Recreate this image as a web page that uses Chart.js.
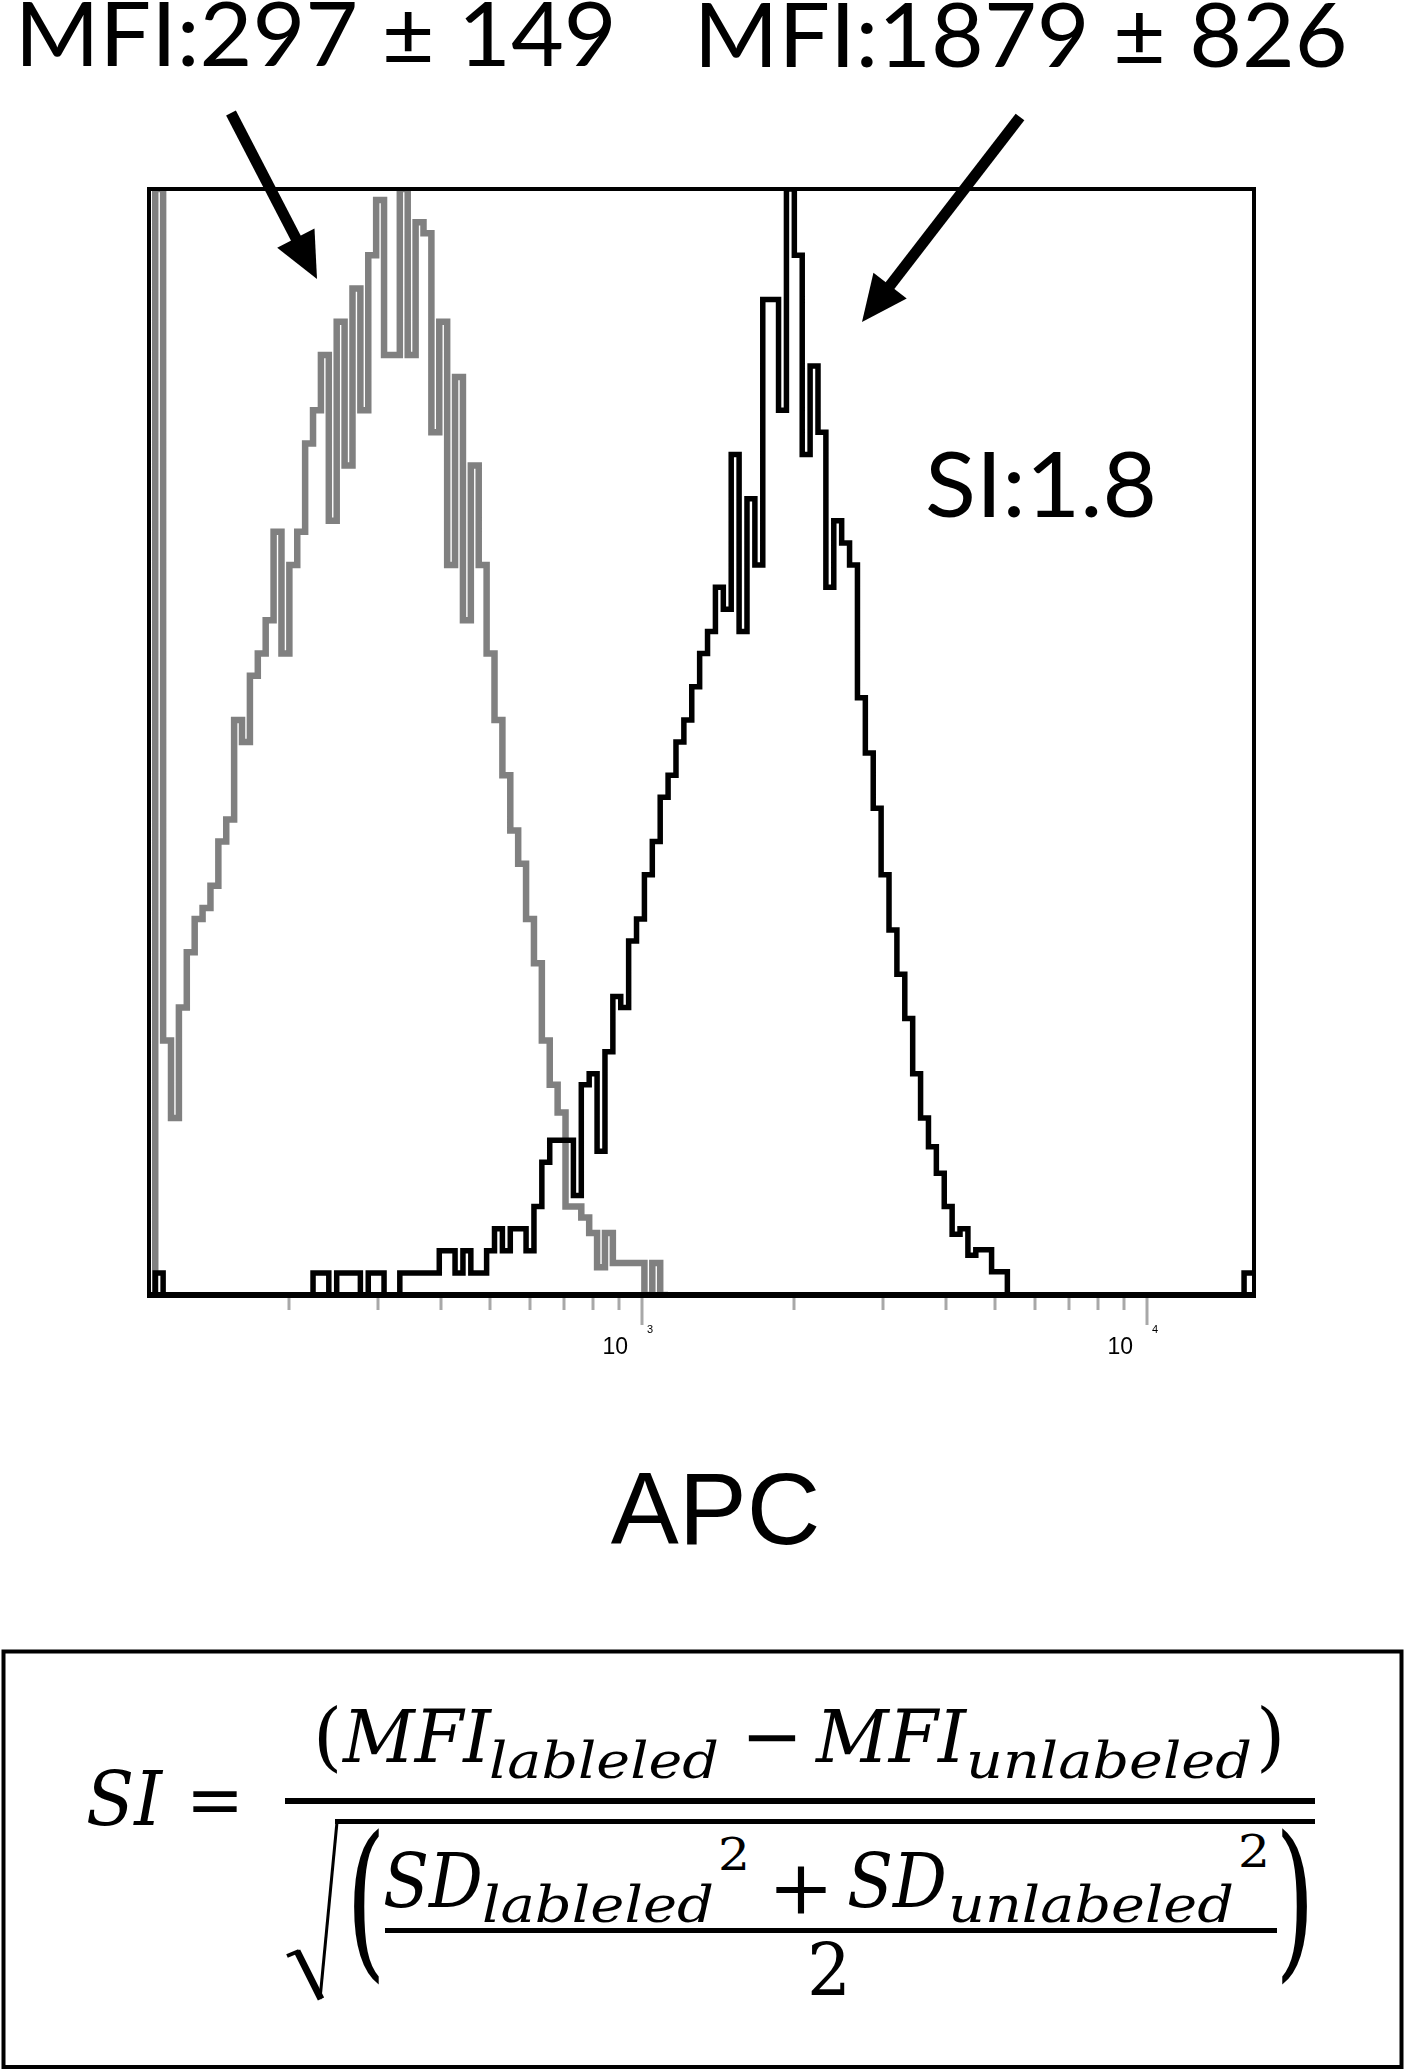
<!DOCTYPE html>
<html>
<head>
<meta charset="utf-8">
<script src="https://cdn.jsdelivr.net/npm/chart.js@4.4.1/dist/chart.umd.min.js"></script>
<style>
html,body{margin:0;padding:0;background:#fff;}
body{width:1405px;height:2070px;position:relative;overflow:hidden;}
#chartWrap{position:absolute;left:0;top:0;width:1405px;height:1645px;}
#formula{position:absolute;left:0;top:1645px;}
</style>
</head>
<body>
<div id="chartWrap"><canvas id="c" width="1405" height="1645"></canvas></div>
<svg id="formula" width="1405" height="425" viewBox="0 1645 1405 425" xmlns="http://www.w3.org/2000/svg">
  <rect x="3.5" y="1651.5" width="1398" height="415.5" fill="none" stroke="#000" stroke-width="4"/>
  <g font-family="'DejaVu Serif','Liberation Serif',serif" fill="#000">
    <text x="86" y="1825" font-size="75" font-style="italic" textLength="76" lengthAdjust="spacingAndGlyphs">SI</text>
    <text x="186" y="1825" font-size="75" textLength="58" lengthAdjust="spacingAndGlyphs">=</text>
    <text x="313" y="1762" font-size="75">(</text>
    <text x="343" y="1762" font-size="72" font-style="italic" textLength="148" lengthAdjust="spacingAndGlyphs">MFI</text>
    <text x="489" y="1778" font-size="50" font-style="italic" textLength="230" lengthAdjust="spacingAndGlyphs">lableled</text>
    <text x="741" y="1762" font-size="75" textLength="62" lengthAdjust="spacingAndGlyphs">−</text>
    <text x="816" y="1762" font-size="72" font-style="italic" textLength="150" lengthAdjust="spacingAndGlyphs">MFI</text>
    <text x="966" y="1778" font-size="50" font-style="italic" textLength="286" lengthAdjust="spacingAndGlyphs">unlabeled</text>
    <text x="1256" y="1762" font-size="75">)</text>
    <text x="346" y="1958" font-size="170" textLength="40" lengthAdjust="spacingAndGlyphs">(</text>
    <text x="383" y="1907" font-size="74" font-style="italic" textLength="100" lengthAdjust="spacingAndGlyphs">SD</text>
    <text x="482" y="1922" font-size="50" font-style="italic" textLength="232" lengthAdjust="spacingAndGlyphs">lableled</text>
    <text x="718" y="1870" font-size="45" textLength="32" lengthAdjust="spacingAndGlyphs">2</text>
    <text x="768" y="1914" font-size="75" textLength="66" lengthAdjust="spacingAndGlyphs">+</text>
    <text x="847" y="1907" font-size="74" font-style="italic" textLength="100" lengthAdjust="spacingAndGlyphs">SD</text>
    <text x="948" y="1922" font-size="50" font-style="italic" textLength="286" lengthAdjust="spacingAndGlyphs">unlabeled</text>
    <text x="1238" y="1867" font-size="45" textLength="32" lengthAdjust="spacingAndGlyphs">2</text>
    <text x="807" y="1996" font-size="73" textLength="44" lengthAdjust="spacingAndGlyphs">2</text>
    <text x="1275" y="1958" font-size="170" textLength="40" lengthAdjust="spacingAndGlyphs">)</text>
  </g>
  <rect x="285" y="1798" width="1030" height="6" fill="#000"/>
  <rect x="385" y="1928" width="892" height="5" fill="#000"/>
  <line x1="287" y1="1956" x2="299" y2="1951" stroke="#000" stroke-width="4"/>
  <line x1="297" y1="1951" x2="321" y2="1999" stroke="#000" stroke-width="7"/>
  <line x1="320" y1="1999" x2="337" y2="1822" stroke="#000" stroke-width="3"/>
  <rect x="335" y="1819" width="980" height="5" fill="#000"/>
</svg>
<script>
// ---- data ----
// x-axis (APC, log scale) visible range
const apcMin = 105.6;
const apcMax = 16290;
// histogram channels: channel k starts at 10^(binStartLog + k/binsPerDecade)
const binStartLog = 2.036;
const binsPerDecade = 64;
// relative counts (% of max) per channel
const unlabeledCounts = [100,23,16,26,31,34,35,37,41,43,52,50,56,58,61,69,58,66,69,77,80,85,70,88,75,91,80,94,99,85,85,100,85,97,96,78,88,66,83,61,75,66,58,52,47,42,39,34,30,23,19,16.5,8,8,7,5.6,2.5,5.6,2.9,2.9,2.9,2.9,0,2.9,0];
const labeledCounts = [2,0,0,0,0,0,0,0,0,0,0,0,0,0,0,0,0,0,0,0,
  2,2,0,2,2,2,0,2,2,0,0,2,2,2,2,2,
  4,4,2,4,2,2,4,6,4,6,6,4,
  8,12,14,14,14,9,19,20,13,
  22,27,26,32,34,38,41,45,47,50,52,55,
  58,60,64,62,76,60,72,66,90,90,80,100,94,76,84,78,64,70,68,66,
  54,49,44,38,33,29,25,20,16,13.4,11,8,5.5,6,3.6,4.1,4.1,2.1,2.1,
  0,0,0,0,0,0,0,0,0,0,0,0,0,0,0,0,0,0,0,0,0,0,0,0,0,0,0,0,0,0,
  2,2];
const tickValues = [200,300,400,500,600,700,800,900,1000,2000,3000,4000,5000,6000,7000,8000,9000,10000];
const majorTickValues = [1000,10000];
const tickExponent = {1000:'3', 10000:'4'};
const labelUnlabeled = 'MFI:297 ± 149';
const labelLabeled = 'MFI:1879 ± 826';
const labelSI = 'SI:1.8';
const axisTitle = 'APC';

function channelValue(k){ return Math.pow(10, binStartLog + k / binsPerDecade); }
function histPoints(counts){
  const pts = [{x: channelValue(0), y: 0}];
  counts.forEach((c, k) => pts.push({x: channelValue(k), y: c}));
  pts.push({x: channelValue(counts.length), y: 0});
  return pts;
}

function fitText(ctx, text, font, left, baseline, visWidth){
  ctx.save();
  ctx.font = font; ctx.textAlign = 'left'; ctx.textBaseline = 'alphabetic';
  const m = ctx.measureText(text);
  const vw = m.actualBoundingBoxLeft + m.actualBoundingBoxRight;
  const sx = visWidth / vw;
  ctx.translate(left, baseline); ctx.scale(sx, 1);
  ctx.fillStyle = '#000';
  ctx.fillText(text, m.actualBoundingBoxLeft, 0);
  ctx.restore();
}
function arrow(ctx, x1, y1, x2, y2, w, headLen, headHalf){
  const dx = x2 - x1, dy = y2 - y1, L = Math.hypot(dx, dy), ux = dx / L, uy = dy / L;
  const bx = x2 - ux * headLen, by = y2 - uy * headLen;
  ctx.save();
  ctx.strokeStyle = '#000'; ctx.fillStyle = '#000';
  ctx.lineWidth = w; ctx.lineCap = 'butt';
  ctx.beginPath(); ctx.moveTo(x1, y1); ctx.lineTo(bx + ux * 3, by + uy * 3); ctx.stroke();
  ctx.beginPath(); ctx.moveTo(x2, y2);
  ctx.lineTo(bx - uy * headHalf, by + ux * headHalf);
  ctx.lineTo(bx + uy * headHalf, by - ux * headHalf);
  ctx.closePath(); ctx.fill();
  ctx.restore();
}

const framePlugin = {
  id: 'frame',
  afterDatasetsDraw(chart){
    const {ctx, chartArea: a} = chart;
    ctx.save();
    ctx.strokeStyle = '#000';
    ctx.lineWidth = 4;
    ctx.strokeRect(a.left, a.top, a.right - a.left, a.bottom - a.top);
    ctx.lineWidth = 6;
    ctx.beginPath(); ctx.moveTo(a.left - 2, a.bottom); ctx.lineTo(a.right + 2, a.bottom); ctx.stroke();
    ctx.restore();
  }
};
const tickPlugin = {
  id: 'logTicks',
  afterDraw(chart){
    const {ctx, chartArea: a} = chart;
    const xs = chart.scales.x;
    ctx.save();
    ctx.strokeStyle = '#a8a8a8'; ctx.lineWidth = 3;
    xs.ticks.forEach(t => {
      const px = Math.round(xs.getPixelForValue(t.value));
      ctx.beginPath();
      ctx.moveTo(px, a.bottom + 3);
      ctx.lineTo(px, a.bottom + (t.major ? 30 : 15));
      ctx.stroke();
      if (t.major) {
        ctx.fillStyle = '#000';
        ctx.textBaseline = 'alphabetic';
        ctx.font = '23px "Liberation Sans", Arial, sans-serif';
        ctx.textAlign = 'right';
        ctx.fillText('10', px - 14, a.bottom + 59);
        ctx.font = '11px "Liberation Sans", Arial, sans-serif';
        ctx.textAlign = 'left';
        ctx.fillText(tickExponent[t.value], px + 5, a.bottom + 38);
      }
    });
    ctx.restore();
  }
};
const annotationPlugin = {
  id: 'annotations',
  afterDraw(chart){
    const ctx = chart.ctx;
    fitText(ctx, labelUnlabeled, '89px Lato, "Open Sans", sans-serif', 23, 66, 589);
    fitText(ctx, labelLabeled, '89px Lato, "Open Sans", sans-serif', 702, 67, 642);
    fitText(ctx, labelSI, '91px Lato, "Open Sans", sans-serif', 928, 517, 225);
    arrow(ctx, 231, 113, 317, 279, 11, 46, 21);
    arrow(ctx, 1020, 117, 862, 322, 11, 46, 21);
  }
};

new Chart(document.getElementById('c'), {
  type: 'line',
  data: {
    datasets: [
      {label: 'Labeled', data: histPoints(labeledCounts), borderColor: '#000', borderWidth: 5.5,
       stepped: 'before', pointRadius: 0, fill: false, borderJoinStyle: 'miter'},
      {label: 'Unlabeled', data: histPoints(unlabeledCounts), borderColor: '#808080', borderWidth: 6.5,
       stepped: 'before', pointRadius: 0, fill: false, borderJoinStyle: 'miter'}
    ]
  },
  options: {
    responsive: false,
    animation: false,
    devicePixelRatio: 1,
    layout: {padding: {left: 149, right: 151, top: 189, bottom: 67.6}},
    plugins: {legend: {display: false}, tooltip: {enabled: false}},
    scales: {
      x: {
        type: 'logarithmic', min: apcMin, max: apcMax,
        afterBuildTicks: s => { s.ticks = tickValues.map(v => ({value: v, major: majorTickValues.includes(v)})); },
        ticks: {display: false},
        grid: {display: false, drawTicks: false},
        border: {display: false},
        title: {display: true, text: ' ' + axisTitle, color: '#000',
                font: {family: '"Liberation Sans", Arial, sans-serif', size: 102, weight: 'normal'},
                padding: {top: 160, bottom: 0}}
      },
      y: {type: 'linear', min: 0, max: 100, display: false}
    }
  },
  plugins: [framePlugin, tickPlugin, annotationPlugin]
});
</script>
</body>
</html>
